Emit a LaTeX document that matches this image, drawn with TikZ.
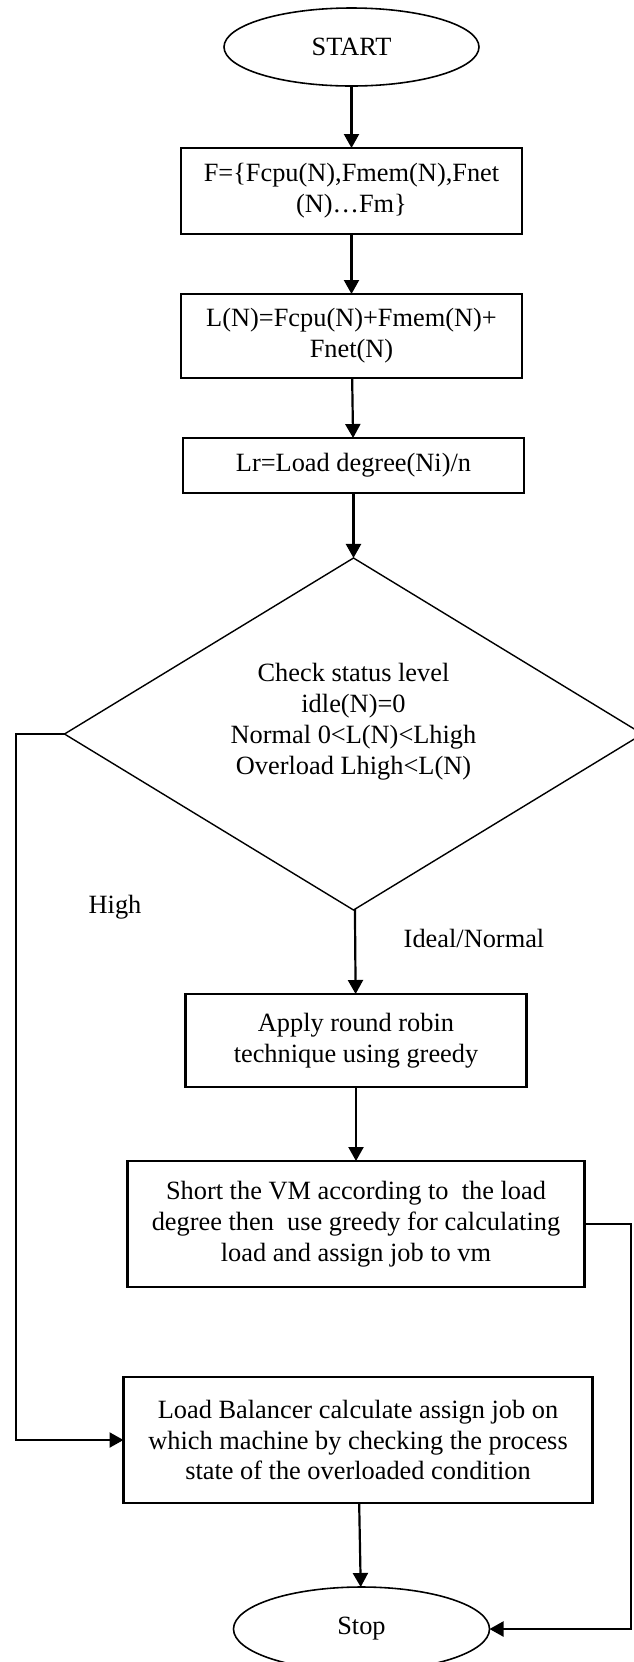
\documentclass[tikz,border=0pt]{standalone}
\usepackage{fontspec}
\setmainfont{Liberation Serif}
\usetikzlibrary{positioning,shapes.geometric,arrows.meta}

\begin{document}
\begin{tikzpicture}[node distance=1.2cm, font=\fontsize{15}{17.6}\selectfont,
		term/.style={ellipse, draw, line width=0.9pt, inner sep=0pt, outer sep=0pt, minimum width=5.1cm, minimum height=1.56cm},
		proc/.style={rectangle, draw, line width=1.25pt, outer sep=0pt, minimum width=6.82cm, align=center},
		decide/.style={diamond, draw, line width=0.8pt, inner sep=0pt, outer sep=0pt, shape aspect=1.64, minimum width=11.56cm, minimum height=7.04cm, align=center},
		arr/.style={-{Triangle[length=0.28cm, width=0.3cm]}, line width=1.25pt}]
		\useasboundingbox (0,0) rectangle (12.66,-33.24);
		\coordinate (lside) at (0.32,0);
		\coordinate (rside) at (12.62,0);
		% main column
		\node[term] (start) at (7.03,-0.94) {START};
		\node[proc, below=1.24cm of start, minimum height=1.72cm] (fset) {F=\{Fcpu(N),Fmem(N),Fnet\\(N)…Fm\}};
		\node[proc, below=of fset, minimum height=1.68cm] (load) {L(N)=Fcpu(N)+Fmem(N)+\\Fnet(N)};
		\node[proc, below=of load, xshift=0.04cm, minimum height=1.1cm] (lr) {Lr=Load degree(Ni)/n};
		\node[decide, below=1.3cm of lr] (check) {Check status level\\idle(N)=0\\Normal 0<L(N)<Lhigh\\Overload Lhigh<L(N)\\ \mbox{}};
		\node[proc, below=1.68cm of check, xshift=0.05cm, minimum height=1.86cm] (apply) {Apply round robin\\technique using greedy};
		\node[proc, below=1.48cm of apply, minimum width=9.14cm, minimum height=2.52cm] (sort) {Short the VM according to~ the load\\degree then~ use greedy for calculating\\load and assign job to vm};
		\node[proc, below=1.8cm of sort, xshift=0.04cm, minimum width=9.38cm, minimum height=2.52cm] (lb) {Load Balancer calculate assign job on\\which machine by checking the process\\state of the overloaded condition};
		\node[term, below=1.68cm of lb, xshift=0.07cm, minimum width=5.12cm, minimum height=1.68cm] (stop) {Stop};
		% branch labels
		\node (high) at (2.30,-18.14) {High};
		\node (ideal) at (9.48,-18.76) {Ideal/Normal};
		% connectors
		\draw[arr] (start) -- (fset);
		\draw[arr] (fset) -- (load);
		\draw[arr] (load) -- (lr);
		\draw[arr] (lr) -- (check);
		\draw[arr] (check) -- (apply);
		\draw[arr] (apply) -- (sort);
		\draw[arr] (lb) -- (stop);
		\draw[arr] (check.west) -- (check.west -| lside) |- (lb.west);
		\draw[arr] (sort.east) -- (sort.east -| rside) |- (stop.east);
	\end{tikzpicture}
\end{document}
